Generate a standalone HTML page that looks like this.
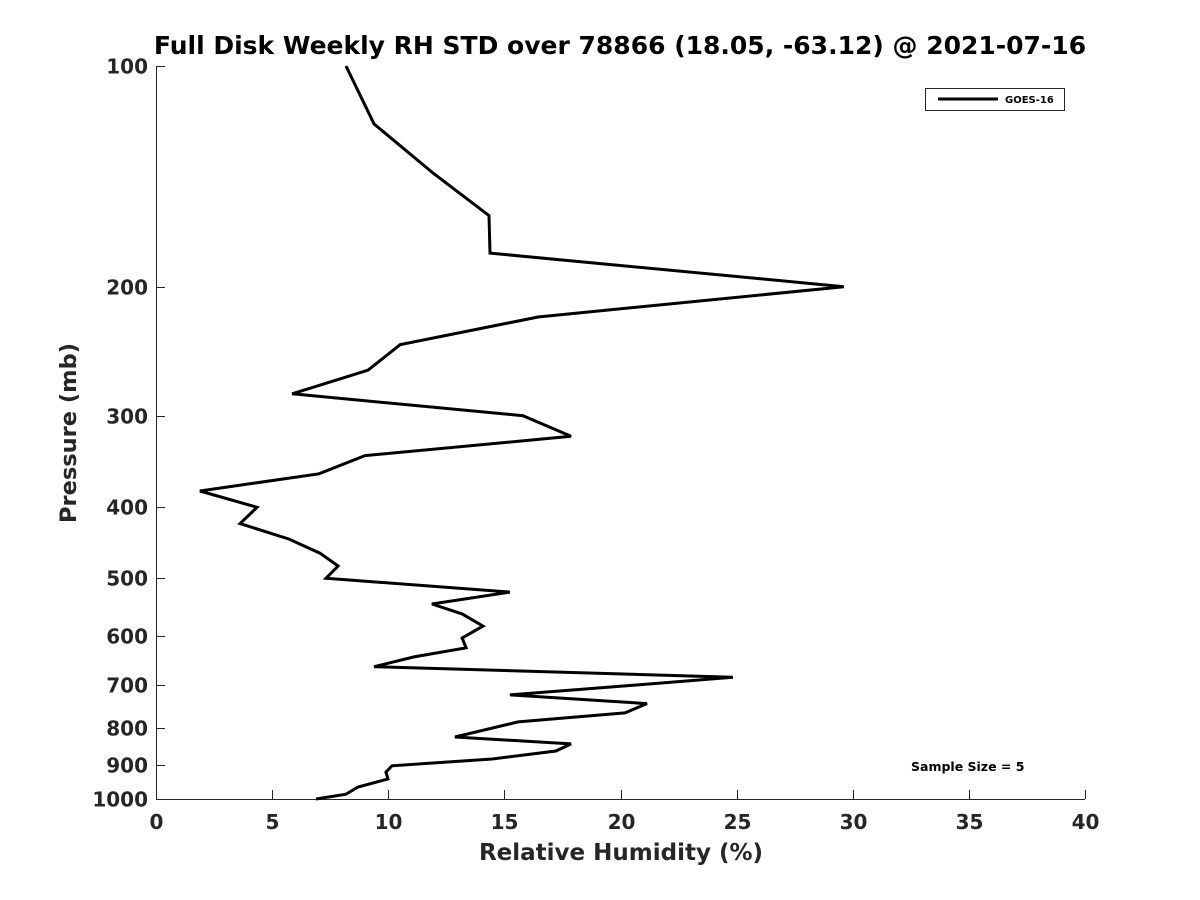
<!DOCTYPE html>
<html><head><meta charset="utf-8"><style>
body{margin:0;background:#fff;}
svg{display:block;font-family:"DejaVu Sans","Liberation Sans",sans-serif;}
</style></head><body>
<svg width="1200" height="900">
<rect width="1200" height="900" fill="#fff"/>
<text x="620" y="54" text-anchor="middle" font-size="25" font-weight="bold" fill="#000">Full Disk Weekly RH STD over 78866 (18.05, -63.12) @ 2021-07-16</text>
<g id="axes"></g>
<g id="plot"></g>
<g>
<rect x="925.5" y="88.5" width="139" height="22" fill="#fff" stroke="#262626" stroke-width="1"/>
<line x1="938" y1="99" x2="998" y2="99" stroke="#000" stroke-width="3"/>
<text x="1005" y="103" font-size="10" font-weight="bold" fill="#000">GOES-16</text>
</g>
<text x="911" y="771" font-size="12.5" font-weight="bold" fill="#000">Sample Size = 5</text>
<text x="621" y="860" text-anchor="middle" font-size="23" font-weight="bold" fill="#262626">Relative Humidity (%)</text>
<text transform="translate(76,433) rotate(-90)" text-anchor="middle" font-size="22.5" font-weight="bold" fill="#262626">Pressure (mb)</text>
</svg>
<script>
const rhValues=[8.18,9.39,11.93,14.34,14.38,29.62,16.45,10.51,9.13,5.86,15.80,17.87,9.00,7.02,1.89,4.35,3.62,5.73,7.06,7.84,7.32,15.24,11.88,13.18,14.08,13.18,13.35,11.11,9.39,24.84,20.41,15.24,21.14,20.19,15.59,12.87,17.87,17.22,14.47,10.16,9.90,9.99,8.70,8.18,6.89];
const pressures=[100,120,140,160,180,200,220,240,260,280,300,320,340,360,380,400,421,442,462,481,500,522,542,559,581,603,622,640,660,682,700,721,741,763,785,823,841,860,882,901,919,939,963,985,1000];
const xTicks=[0,5,10,15,20,25,30,35,40];
const yTicks=[100,200,300,400,500,600,700,800,900,1000];
const X0=156,X1=1085,Y0=66,Y1=799;
const sx=v=>X0+(v-0)/40*(X1-X0);
const sy=p=>Y0+(Math.log10(p)-2)*(Y1-Y0);
const NS="http://www.w3.org/2000/svg";
const ax=document.getElementById('axes');
function mk(t,a,parent){const e=document.createElementNS(NS,t);for(const k in a)e.setAttribute(k,a[k]);parent.appendChild(e);return e;}
let l=mk('line',{x1:X0,y1:Y1+0.5,x2:X1,y2:Y1+0.5,stroke:'#262626','stroke-width':1},ax);


l=mk('line',{x1:X0+0.5,y1:Y0,x2:X0+0.5,y2:Y1,stroke:'#262626','stroke-width':1},ax);


xTicks.forEach(v=>{const x=Math.round(sx(v))+0.5;
 const t=mk('line',{x1:x,y1:Y1,x2:x,y2:Y1-9,stroke:'#262626'},ax);
 
 
 const tx=mk('text',{x:x,y:829,'text-anchor':'middle','font-size':20,'font-weight':'bold',fill:'#262626'},ax);
 tx.textContent=v;
 
 
});
yTicks.forEach(p=>{const y=Math.round(sy(p))+0.5;
 const t=mk('line',{x1:X0,y1:y,x2:X0+9,y2:y,stroke:'#262626'},ax);
 
 
 const tx=mk('text',{x:148,y:y+7,'text-anchor':'end','font-size':20,'font-weight':'bold',fill:'#262626'},ax);
 tx.textContent=p;
 
 
});
const pts=rhValues.map((v,i)=>sx(v).toFixed(1)+','+sy(pressures[i]).toFixed(1)).join(' ');
const pl=mk('polyline',{points:pts,fill:'none',stroke:'#000','stroke-width':3,'stroke-linejoin':'miter'},document.getElementById('plot'));


</script>
</body></html>
